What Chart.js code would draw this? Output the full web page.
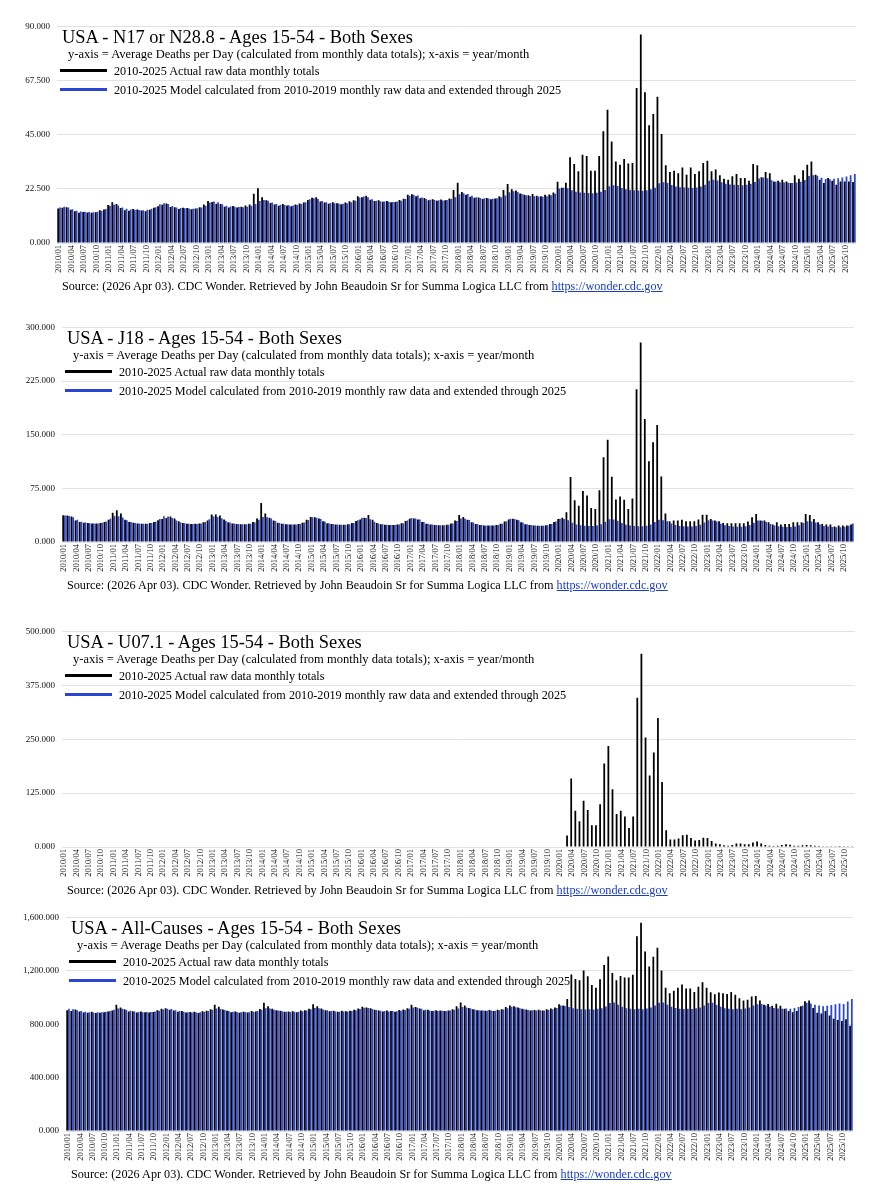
<!DOCTYPE html>
<html>
<head>
<meta charset="utf-8">
<script src="https://cdn.jsdelivr.net/npm/chart.js@4.4.1/dist/chart.umd.min.js"></script>
<style>
  html, body { margin: 0; padding: 0; background: #fff; }
  #page { position: relative; width: 888px; height: 1200px; overflow: hidden; background: #fff; }
  #page canvas { position: absolute; left: 0; }
  .txt { position: absolute; white-space: nowrap; color: #000; font-family: "Liberation Serif", "Times New Roman", serif; }
  .txt a { color: #1a3dc8; text-decoration: underline; }
  .key { position: absolute; height: 3px; }
</style>
</head>
<body>
<div id="page"></div>
<script>
const years = ['2010', '2011', '2012', '2013', '2014', '2015', '2016', '2017', '2018', '2019', '2020', '2021', '2022', '2023', '2024', '2025'];
const months = ['01', '02', '03', '04', '05', '06', '07', '08', '09', '10', '11', '12'];
const monthLabels = years.flatMap(y => months.map(m => y + '/' + m));

// N17 or N28.8
const n17Actual = [
  14.3, 14.6, 14.9, 13.8, 13.2, 12.6, 12.9, 12.7, 12.6, 12.8, 13.6, 13.9,
  15.8, 16.9, 16.2, 14.5, 13.6, 13.4, 14.1, 13.9, 13.5, 13.2, 13.8, 14.6,
  15.3, 15.9, 16.4, 15.0, 14.9, 14.1, 14.6, 14.5, 14.0, 14.3, 14.9, 16.0,
  17.4, 17.0, 16.3, 16.2, 15.1, 14.8, 15.4, 14.7, 15.1, 15.6, 16.0, 20.5,
  22.8, 19.0, 17.8, 16.6, 16.0, 15.5, 16.2, 15.6, 15.3, 16.0, 16.4, 16.8,
  17.9, 18.8, 19.0, 17.2, 16.8, 16.3, 16.9, 16.5, 16.1, 16.8, 17.3, 17.8,
  19.4, 19.0, 19.6, 18.0, 17.4, 17.8, 17.1, 17.5, 16.9, 17.0, 17.9, 18.4,
  20.0, 20.3, 19.4, 18.6, 18.7, 17.8, 18.2, 17.6, 18.1, 17.8, 18.5, 22.0,
  25.0, 21.2, 20.0, 19.2, 18.8, 18.9, 18.3, 18.7, 18.2, 18.5, 19.4, 22.0,
  24.5, 22.3, 21.8, 20.6, 20.1, 19.8, 20.4, 19.6, 19.4, 20.0, 20.2, 21.0,
  25.5, 23.0, 25.0, 35.6, 32.8, 29.8, 36.7, 36.1, 30.0, 30.0, 36.1, 46.4,
  55.4, 42.2, 33.9, 32.5, 34.9, 33.0, 33.2, 64.4, 86.6, 62.6, 48.9, 53.6,
  60.8, 45.3, 32.3, 29.5, 30.0, 29.0, 31.4, 28.4, 31.4, 28.7, 29.8, 33.2,
  34.2, 29.8, 30.5, 28.1, 26.7, 26.3, 27.7, 28.7, 27.0, 27.0, 25.9, 32.8,
  32.3, 27.3, 29.5, 29.0, 25.6, 25.9, 26.3, 25.6, 24.9, 28.1, 26.7, 30.2,
  32.5, 33.9, 28.4, 26.3, 24.9, 27.0, 25.9, 24.2, 25.6, 25.6, 25.6, 25.3
];
const n17Model = [
  14.7, 15.1, 14.8, 14.0, 13.4, 13.1, 13.0, 12.9, 12.8, 13.0, 13.4, 14.1,
  15.5, 15.9, 15.6, 14.8, 14.2, 13.9, 13.8, 13.7, 13.6, 13.8, 14.2, 14.9,
  16.1, 16.5, 16.2, 15.4, 14.8, 14.5, 14.4, 14.3, 14.2, 14.4, 14.8, 15.5,
  16.8, 17.2, 16.9, 16.1, 15.5, 15.2, 15.1, 15.0, 14.9, 15.1, 15.5, 16.2,
  17.5, 17.9, 17.6, 16.8, 16.2, 15.9, 15.8, 15.7, 15.6, 15.8, 16.2, 16.9,
  18.2, 18.6, 18.3, 17.5, 16.9, 16.6, 16.5, 16.4, 16.3, 16.5, 16.9, 17.6,
  18.9, 19.3, 19.0, 18.2, 17.6, 17.3, 17.2, 17.1, 17.0, 17.2, 17.6, 18.3,
  19.6, 20.0, 19.7, 18.9, 18.3, 18.0, 17.9, 17.8, 17.7, 17.9, 18.3, 19.0,
  20.3, 20.7, 20.4, 19.6, 19.0, 18.7, 18.6, 18.5, 18.4, 18.6, 19.0, 19.7,
  21.1, 21.5, 21.2, 20.4, 19.8, 19.5, 19.4, 19.3, 19.2, 19.4, 19.8, 20.5,
  22.6, 23.0, 22.7, 21.9, 21.3, 21.0, 20.9, 20.8, 20.7, 20.9, 21.3, 22.0,
  23.6, 24.0, 23.7, 22.9, 22.3, 22.0, 21.9, 21.8, 21.7, 21.9, 22.3, 23.0,
  24.8, 25.2, 24.9, 24.1, 23.5, 23.2, 23.1, 23.0, 22.9, 23.1, 23.5, 24.2,
  25.9, 26.3, 26.0, 25.2, 24.6, 24.3, 24.2, 24.1, 24.0, 24.2, 24.6, 25.3,
  26.8, 27.2, 26.9, 26.1, 25.5, 25.2, 25.1, 25.0, 24.9, 25.1, 25.5, 26.2,
  27.8, 28.2, 27.9, 27.1, 26.6, 26.5, 26.7, 26.9, 27.2, 27.6, 28.1, 28.7
];

// J18
const j18Actual = [
  37.5, 37.0, 35.5, 30.0, 28.0, 27.0, 26.5, 26.0, 25.8, 26.5, 28.0, 31.0,
  41.0, 44.5, 40.0, 31.0, 28.0, 26.8, 26.0, 25.6, 25.6, 26.4, 28.0, 30.5,
  32.0, 33.5, 35.5, 33.0, 29.0, 26.5, 25.5, 25.2, 25.4, 26.0, 27.5, 30.0,
  38.5, 38.6, 37.0, 31.5, 27.5, 25.9, 25.0, 24.8, 24.8, 25.5, 27.8, 33.0,
  54.5, 40.0, 34.0, 30.0, 27.0, 25.5, 24.7, 24.4, 24.4, 25.1, 27.0, 31.0,
  35.0, 34.5, 33.0, 29.0, 26.3, 25.1, 24.3, 24.0, 24.0, 24.7, 26.6, 29.5,
  31.5, 34.0, 37.7, 31.0, 26.5, 24.7, 24.0, 23.7, 23.7, 24.4, 26.3, 29.5,
  32.5, 33.0, 31.5, 28.0, 25.5, 24.3, 23.6, 23.3, 23.3, 24.0, 25.9, 30.0,
  37.7, 35.0, 31.0, 27.5, 25.1, 23.9, 23.2, 22.9, 22.9, 23.6, 25.4, 28.5,
  31.5, 32.5, 31.0, 27.5, 24.8, 23.6, 22.9, 22.6, 22.6, 23.3, 25.1, 28.0,
  32.0, 34.0, 41.5, 90.8, 58.5, 50.7, 71.4, 65.0, 47.5, 46.0, 72.4, 118.4,
  142.9, 91.2, 59.4, 63.6, 59.0, 46.0, 60.8, 213.4, 278.8, 171.9, 112.9, 139.6,
  163.6, 91.7, 40.0, 29.0, 30.0, 30.0, 31.0, 29.0, 29.0, 29.0, 31.3, 38.0,
  38.0, 32.0, 30.0, 29.0, 26.7, 26.3, 26.3, 26.3, 26.3, 26.3, 28.6, 34.6,
  39.2, 30.0, 30.0, 27.6, 24.4, 27.6, 24.4, 25.3, 25.3, 27.6, 27.6, 27.6,
  39.2, 37.8, 32.3, 27.6, 25.3, 24.4, 24.4, 21.7, 23.0, 23.0, 23.0, 24.4
];
const j18Model = [
  37.0, 36.5, 34.6, 31.0, 28.4, 27.1, 26.3, 26.0, 26.0, 26.8, 28.8, 32.6,
  36.5, 36.0, 34.1, 30.5, 28.0, 26.7, 25.9, 25.6, 25.6, 26.4, 28.3, 32.1,
  36.0, 35.5, 33.6, 30.1, 27.6, 26.3, 25.5, 25.2, 25.2, 26.0, 27.9, 31.7,
  35.5, 35.0, 33.1, 29.6, 27.2, 25.9, 25.1, 24.8, 24.8, 25.5, 27.5, 31.2,
  35.0, 34.5, 32.7, 29.2, 26.7, 25.5, 24.7, 24.4, 24.4, 25.1, 27.1, 30.8,
  34.5, 34.0, 32.2, 28.7, 26.3, 25.1, 24.3, 24.0, 24.0, 24.7, 26.6, 30.3,
  34.0, 33.5, 31.7, 28.3, 26.0, 24.7, 24.0, 23.7, 23.7, 24.4, 26.3, 29.9,
  33.5, 33.0, 31.3, 27.9, 25.5, 24.3, 23.6, 23.3, 23.3, 24.0, 25.9, 29.4,
  33.0, 32.5, 30.8, 27.4, 25.1, 23.9, 23.2, 22.9, 22.9, 23.6, 25.4, 29.0,
  32.5, 32.0, 30.3, 27.1, 24.8, 23.6, 22.9, 22.6, 22.6, 23.3, 25.1, 28.5,
  32.5, 32.0, 30.3, 26.9, 24.5, 23.3, 22.6, 22.3, 22.3, 23.0, 24.9, 28.4,
  31.8, 31.3, 29.6, 26.4, 24.2, 23.0, 22.3, 22.0, 22.0, 22.7, 24.5, 27.9,
  31.0, 30.5, 28.9, 25.8, 23.7, 22.5, 21.9, 21.6, 21.6, 22.3, 24.0, 27.2,
  30.5, 30.0, 28.5, 25.4, 23.3, 22.2, 21.6, 21.3, 21.3, 21.9, 23.6, 26.8,
  30.0, 29.6, 28.0, 25.1, 23.0, 21.9, 21.3, 21.0, 21.0, 21.6, 23.3, 26.4,
  29.0, 28.6, 27.2, 24.4, 22.5, 21.5, 21.0, 20.7, 20.7, 21.3, 22.8, 25.7
];

// U07.1
const u071Actual = [
  0, 0, 0, 0, 0, 0, 0, 0, 0, 0, 0, 0,
  0, 0, 0, 0, 0, 0, 0, 0, 0, 0, 0, 0,
  0, 0, 0, 0, 0, 0, 0, 0, 0, 0, 0, 0,
  0, 0, 0, 0, 0, 0, 0, 0, 0, 0, 0, 0,
  0, 0, 0, 0, 0, 0, 0, 0, 0, 0, 0, 0,
  0, 0, 0, 0, 0, 0, 0, 0, 0, 0, 0, 0,
  0, 0, 0, 0, 0, 0, 0, 0, 0, 0, 0, 0,
  0, 0, 0, 0, 0, 0, 0, 0, 0, 0, 0, 0,
  0, 0, 0, 0, 0, 0, 0, 0, 0, 0, 0, 0,
  0, 0, 0, 0, 0, 0, 0, 0, 0, 0, 0, 0,
  0, 0, 26.8, 159, 84, 59.6, 107, 85.6, 50.5, 50.5, 99.4, 193.4,
  234, 133.8, 76.5, 84, 71, 44.3, 71, 346, 448, 253.8, 165.9, 219.4,
  299, 150.6, 39, 17.6, 17.6, 19.9, 27.5, 28.3, 20.6, 15.3, 16, 21.4,
  20.6, 13.8, 8.4, 6.1, 3.8, 3.1, 4.6, 8.4, 8.4, 6.1, 6.1, 10.7,
  13, 8.4, 4.6, 3.1, 2.3, 3.1, 4.6, 6.1, 5.4, 3.1, 3.1, 3.8,
  4.6, 3.8, 3.1, 2.3, 2.0, 1.6, 1.5, 2.0, 2.3, 2.0, 1.6, 1.5
];
const u071Model = [
  0, 0, 0, 0, 0, 0, 0, 0, 0, 0, 0, 0,
  0, 0, 0, 0, 0, 0, 0, 0, 0, 0, 0, 0,
  0, 0, 0, 0, 0, 0, 0, 0, 0, 0, 0, 0,
  0, 0, 0, 0, 0, 0, 0, 0, 0, 0, 0, 0,
  0, 0, 0, 0, 0, 0, 0, 0, 0, 0, 0, 0,
  0, 0, 0, 0, 0, 0, 0, 0, 0, 0, 0, 0,
  0, 0, 0, 0, 0, 0, 0, 0, 0, 0, 0, 0,
  0, 0, 0, 0, 0, 0, 0, 0, 0, 0, 0, 0,
  0, 0, 0, 0, 0, 0, 0, 0, 0, 0, 0, 0,
  0, 0, 0, 0, 0, 0, 0, 0, 0, 0, 0, 0,
  0, 0, 0, 0, 0, 0, 0, 0, 0, 0, 0, 0,
  0, 0, 0, 0, 0, 0, 0, 0, 0, 0, 0, 0,
  0, 0, 0, 0, 0, 0, 0, 0, 0, 0, 0, 0,
  0, 0, 0, 0, 0, 0, 0, 0, 0, 0, 0, 0,
  0, 0, 0, 0, 0, 0, 0, 0, 0, 0, 0, 0,
  0, 0, 0, 0, 0, 0, 0, 0, 0, 0, 0, 0
];

// All-Causes
const allActual = [
  905, 898, 910, 895, 888, 885, 893, 884, 886, 890, 895, 902,
  945, 925, 912, 896, 897, 888, 895, 890, 887, 892, 905, 915,
  920, 908, 903, 893, 898, 887, 891, 893, 884, 897, 900, 912,
  945, 930, 910, 900, 890, 895, 886, 894, 888, 899, 895, 914,
  960, 935, 915, 905, 900, 893, 896, 897, 890, 902, 905, 915,
  950, 935, 918, 905, 897, 900, 893, 901, 897, 900, 909, 918,
  930, 925, 920, 908, 903, 895, 902, 899, 894, 906, 910, 920,
  945, 928, 917, 905, 909, 898, 904, 903, 898, 902, 912, 935,
  963, 940, 922, 912, 905, 903, 900, 906, 899, 908, 912, 928,
  940, 935, 925, 915, 910, 902, 906, 908, 903, 912, 918, 925,
  950, 940, 988, 1173, 1139, 1129, 1202, 1159, 1093, 1073, 1137, 1244,
  1307, 1183, 1129, 1161, 1149, 1149, 1171, 1459, 1559, 1344, 1232, 1305,
  1373, 1202, 1073, 1032, 1051, 1073, 1098, 1068, 1068, 1041, 1080, 1115,
  1073, 1039, 1024, 1037, 1032, 1027, 1041, 1020, 995, 978, 983, 1007,
  1012, 978, 946, 951, 939, 954, 939, 915, 898, 890, 898, 934,
  971, 978, 922, 885, 880, 898, 866, 841, 832, 824, 837, 788
];
const allModel = [
  915, 912, 905, 898, 893, 890, 888, 890, 889, 893, 898, 908,
  918, 915, 907, 900, 895, 892, 890, 892, 891, 895, 900, 910,
  916, 913, 905, 898, 893, 890, 888, 890, 889, 893, 898, 908,
  917, 914, 906, 899, 894, 891, 889, 891, 890, 894, 899, 909,
  920, 917, 909, 902, 897, 894, 892, 894, 893, 897, 902, 912,
  922, 919, 911, 904, 899, 896, 894, 896, 895, 899, 904, 914,
  924, 921, 913, 906, 901, 898, 896, 898, 897, 901, 906, 916,
  926, 923, 915, 908, 903, 900, 898, 900, 899, 903, 908, 918,
  928, 925, 917, 910, 905, 902, 900, 902, 901, 905, 910, 920,
  930, 927, 919, 912, 907, 904, 902, 904, 903, 907, 912, 922,
  940, 936, 928, 920, 915, 912, 910, 912, 911, 915, 920, 932,
  958, 962, 945, 930, 920, 915, 912, 915, 912, 918, 925, 940,
  960, 963, 946, 931, 921, 916, 913, 916, 913, 919, 926, 941,
  958, 960, 944, 930, 920, 915, 912, 915, 912, 918, 925, 940,
  950, 952, 940, 930, 922, 918, 916, 918, 916, 922, 928, 940,
  960, 955, 946, 940, 935, 938, 944, 950, 955, 952, 970, 988
];

const actualLabel = '2010-2025 Actual raw data monthly totals';
const modelLabel = '2010-2025 Model calculated from 2010-2019 monthly raw data and extended through 2025';
const subtitle = 'y-axis = Average Deaths per Day (calculated from monthly data totals); x-axis = year/month';
const sourceText = 'Source: (2026 Apr 03). CDC Wonder. Retrieved by John Beaudoin Sr for Summa Logica LLC from ';

const FONT = '"Liberation Serif", "Times New Roman", serif';
const BLUE = '#2a44d4';
const PAD_TOP = 8;
const X_H = 52;

const panels = [
  { title: 'USA - N17 or N28.8 - Ages 15-54 - Both Sexes', actual: n17Actual, model: n17Model, max: 90, step: 22.5, top: 22, bottom: 243, left: 57, right: 856 },
  { title: 'USA - J18 - Ages 15-54 - Both Sexes', actual: j18Actual, model: j18Model, max: 300, step: 75, top: 323, bottom: 542, left: 62, right: 854 },
  { title: 'USA - U07.1 - Ages 15-54 - Both Sexes', actual: u071Actual, model: u071Model, max: 500, step: 125, top: 627, bottom: 847, left: 62, right: 855 },
  { title: 'USA - All-Causes - Ages 15-54 - Both Sexes', actual: allActual, model: allModel, max: 1600, step: 400, top: 913, bottom: 1131, left: 66, right: 853 }
];

const page = document.getElementById('page');

function addText(html, x, baseline, size) {
  const d = document.createElement('div');
  d.className = 'txt';
  d.style.left = x + 'px';
  d.style.top = (baseline - 0.8375 * size) + 'px';
  d.style.fontSize = size + 'px';
  d.style.lineHeight = size + 'px';
  d.innerHTML = html;
  page.appendChild(d);
  return d;
}

function addKey(x, y, color) {
  const d = document.createElement('div');
  d.className = 'key';
  d.style.left = x + 'px';
  d.style.top = (y - 1.5) + 'px';
  d.style.width = '47px';
  d.style.background = color;
  page.appendChild(d);
}

panels.forEach(function (p) {
  const h = PAD_TOP + (p.bottom - p.top) + X_H;
  const canvas = document.createElement('canvas');
  canvas.width = 888;
  canvas.height = h;
  canvas.style.top = (p.top - PAD_TOP) + 'px';
  page.appendChild(canvas);

  const chart = new Chart(canvas.getContext('2d'), {
    type: 'bar',
    data: {
      labels: monthLabels,
      datasets: [
        { label: actualLabel, data: p.actual, backgroundColor: '#000' },
        { label: modelLabel, data: p.model, backgroundColor: BLUE }
      ]
    },
    options: {
      responsive: false,
      animation: false,
      layout: { padding: { top: PAD_TOP, right: 888 - p.right, bottom: 0, left: 0 } },
      plugins: { legend: { display: false }, tooltip: { enabled: false } },
      datasets: { bar: { categoryPercentage: 0.86, barPercentage: 1, borderWidth: 0 } },
      scales: {
        x: {
          grid: { display: false },
          border: { display: false },
          ticks: {
            autoSkip: false, minRotation: 90, maxRotation: 90, padding: -6,
            color: '#111', font: { family: FONT, size: 8.5 },
            callback: function (v, i) { return i % 3 === 0 ? this.getLabelForValue(v) : ''; }
          },
          afterFit: function (s) { s.height = X_H; }
        },
        y: {
          min: 0, max: p.max,
          grid: { color: '#e2e2e2', drawTicks: false },
          border: { display: false },
          ticks: {
            stepSize: p.step, padding: 7, color: '#111', font: { family: FONT, size: 9 },
            callback: v => v.toLocaleString('en-US', { minimumFractionDigits: 3, maximumFractionDigits: 3 })
          },
          afterFit: function (s) { s.width = p.left; }
        }
      }
    }
  });

  const a = chart.chartArea;
  const L = a.left;
  const T = p.top - PAD_TOP + a.top;
  const B = p.top - PAD_TOP + a.bottom;
  addText(p.title, L + 5, T + 17, 18.4);
  addText(subtitle, L + 11, T + 32.5, 12.5);
  addKey(L + 3, T + 44, '#000');
  addText(actualLabel, L + 57, T + 49, 12.2);
  addKey(L + 3, T + 63.5, BLUE);
  addText(modelLabel, L + 57, T + 68, 12.2);
  addText(sourceText + '<a href="https://wonder.cdc.gov">https://wonder.cdc.gov</a>', L + 5, B + 47.5, 12.2);
});
</script>
</body>
</html>
